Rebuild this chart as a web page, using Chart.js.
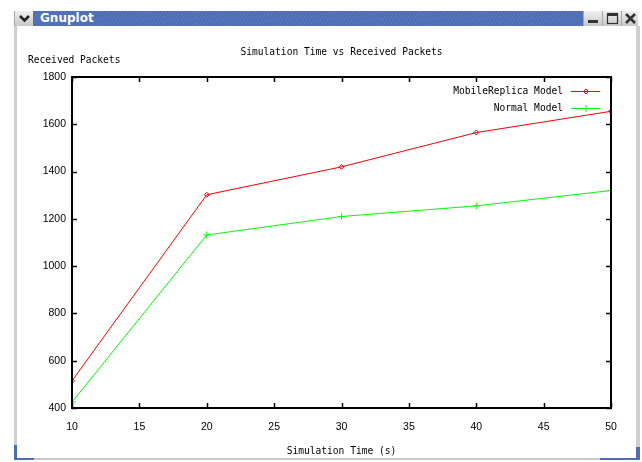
<!DOCTYPE html>
<html>
<head>
<meta charset="utf-8">
<script src="https://cdn.jsdelivr.net/npm/chart.js@4"></script>
<style>
  html, body { margin:0; padding:0; width:642px; height:462px; overflow:hidden; background:#fff; }
  .abs { position:absolute; }
  #titlebar { left:33px; top:11px; width:550px; height:15px;
    background: repeating-linear-gradient(-60deg, #4e6db3 0px, #4e6db3 2px, #5877bd 2px, #5877bd 3px); }
  #titletext { left:40px; top:10px; color:#fff; font:bold 12px "DejaVu Sans", sans-serif; line-height:17px; }
  .btn { top:11px; height:15px; background:linear-gradient(#f0f0f0,#c8c8c8); border-left:1px solid #a8a8a8; box-sizing:border-box; }
  #canvaswrap { left:0; top:0; width:642px; height:462px; }
</style>
</head>
<body>
<div class="abs btn" style="left:14px;width:19px;"><svg width="19" height="15"><polyline points="5,5 9.5,9.5 14,5" fill="none" stroke="#222" stroke-width="2.6"/></svg></div>
<div class="abs" id="titlebar"></div>
<div class="abs" id="titletext">Gnuplot</div>
<div class="abs btn" style="left:583px;width:19px;"><svg width="19" height="15"><rect x="4" y="9" width="10" height="3" fill="#333"/></svg></div>
<div class="abs btn" style="left:602px;width:19px;"><svg width="19" height="15"><rect x="4.5" y="2.5" width="10" height="10" fill="none" stroke="#333" stroke-width="1.2"/><rect x="4" y="2" width="11" height="3" fill="#333"/></svg></div>
<div class="abs btn" style="left:621px;width:17px;"><svg width="17" height="15"><path d="M4,3 L13,12 M13,3 L4,12" stroke="#333" stroke-width="2.6"/></svg></div>
<div class="abs" style="left:14px;top:26px;width:3px;height:419px;background:#cfcfcf;"></div>
<div class="abs" style="left:14px;top:445px;width:3px;height:15px;background:#4e6db3;"></div>
<div class="abs" style="left:14px;top:458px;width:20px;height:2px;background:#4e6db3;"></div>
<div class="abs" style="left:34px;top:458px;width:566px;height:2px;background:#c8c8c8;"></div>
<div class="abs" style="left:600px;top:458px;width:40px;height:2px;background:#4e6db3;"></div>
<div class="abs" style="left:636px;top:26px;width:4px;height:421px;background:#cfcfcf;"></div>
<div class="abs" style="left:636px;top:447px;width:4px;height:13px;background:#4e6db3;"></div>
<div class="abs" id="canvaswrap"><canvas id="c" width="642" height="462"></canvas></div>
<script>
const times = [10, 20, 30, 40, 50];
const mobileReplica = [515, 1302, 1420, 1565, 1655];
const normalModel = [425, 1132, 1210, 1255, 1320];
const seriesNames = ["MobileReplica Model", "Normal Model"];
const xTicks = [10, 15, 20, 25, 30, 35, 40, 45, 50];
const yTicks = [400, 600, 800, 1000, 1200, 1400, 1600, 1800];
const chartTitle = "Simulation Time vs Received Packets";
const xLabel = "Simulation Time (s)";
const yLabel = "Received Packets";

const labelFont = '9.6px "DejaVu Sans Mono", monospace';
const tickFont = { family: '"Liberation Sans", Arial, sans-serif', size: 10.5 };

const gnuplotDecor = {
  id: 'gnuplotDecor',
  afterDraw(chart) {
    const ctx = chart.ctx;
    const a = chart.chartArea;
    const xs = chart.scales.x, ys = chart.scales.y;
    ctx.save();
    // border box
    ctx.strokeStyle = '#000';
    ctx.lineWidth = 2;
    ctx.strokeRect(a.left, a.top, a.right - a.left, a.bottom - a.top);
    // inward ticks, mirrored
    ctx.lineWidth = 1.5;
    ctx.beginPath();
    xTicks.forEach(v => {
      const px = Math.round(xs.getPixelForValue(v)) + 0.5;
      ctx.moveTo(px, a.bottom); ctx.lineTo(px, a.bottom - 5);
      ctx.moveTo(px, a.top); ctx.lineTo(px, a.top + 5);
    });
    yTicks.forEach(v => {
      const py = Math.round(ys.getPixelForValue(v)) + 0.5;
      ctx.moveTo(a.left, py); ctx.lineTo(a.left + 5, py);
      ctx.moveTo(a.right, py); ctx.lineTo(a.right - 5, py);
    });
    ctx.stroke();
    // texts
    ctx.fillStyle = '#000';
    ctx.font = labelFont;
    ctx.textBaseline = 'middle';
    ctx.textAlign = 'center';
    ctx.fillText(chartTitle, (a.left + a.right) / 2, 52);
    ctx.fillText(xLabel, (a.left + a.right) / 2, 451);
    ctx.textAlign = 'left';
    ctx.fillText(yLabel, 28, 60);
    // legend
    chart.data.datasets.forEach((ds, i) => {
      const y = 91 + 17 * i;
      ctx.textAlign = 'right';
      ctx.fillStyle = '#000';
      ctx.font = labelFont;
      ctx.fillText(ds.label, 563, y);
      ctx.strokeStyle = ds.borderColor;
      ctx.fillStyle = 'rgba(0,0,0,0)';
      ctx.lineWidth = 1;
      ctx.beginPath();
      ctx.moveTo(571, y + 0.5); ctx.lineTo(600, y + 0.5);
      ctx.stroke();
      Chart.helpers.drawPoint(ctx, {
        pointStyle: ds.pointStyle, radius: ds.pointRadius, borderWidth: 1, rotation: 0
      }, 586, y + 0.5);
    });
    ctx.restore();
  }
};

new Chart(document.getElementById('c'), {
  type: 'line',
  data: {
    datasets: [
      {
        label: seriesNames[0],
        data: times.map((t, i) => ({ x: t, y: mobileReplica[i] })),
        borderColor: '#ff0000', backgroundColor: 'rgba(0,0,0,0)',
        borderWidth: 1, pointStyle: 'rectRot', pointRadius: 2.5,
        pointBackgroundColor: 'rgba(0,0,0,0)',
        pointBorderColor: '#ff0000', pointBorderWidth: 1, tension: 0
      },
      {
        label: seriesNames[1],
        data: times.map((t, i) => ({ x: t, y: normalModel[i] })),
        borderColor: '#00ff00', backgroundColor: 'rgba(0,0,0,0)',
        borderWidth: 1, pointStyle: 'cross', pointRadius: 3.5,
        pointBackgroundColor: 'rgba(0,0,0,0)',
        pointBorderColor: '#00ff00', pointBorderWidth: 1, tension: 0
      }
    ]
  },
  options: {
    responsive: false,
    animation: false,
    layout: { padding: { left: 0, top: 77, right: 31, bottom: 0 } },
    plugins: { legend: { display: false }, title: { display: false }, tooltip: { enabled: false } },
    scales: {
      x: {
        type: 'linear', min: 10, max: 50,
        afterFit(s) { s.height = 54; },
        afterBuildTicks(s) { s.ticks = xTicks.map(v => ({ value: v })); },
        grid: { display: false, drawTicks: false },
        border: { display: false },
        ticks: { color: '#000', font: tickFont, padding: 13, maxRotation: 0, autoSkip: false,
                 callback: v => String(v) }
      },
      y: {
        type: 'linear', min: 400, max: 1800,
        afterFit(s) { s.width = 72; },
        afterBuildTicks(s) { s.ticks = yTicks.map(v => ({ value: v })); },
        grid: { display: false, drawTicks: false },
        border: { display: false },
        ticks: { color: '#000', font: tickFont, padding: 6, autoSkip: false,
                 callback: v => String(v) }
      }
    }
  },
  plugins: [gnuplotDecor]
});
</script>
</body>
</html>
